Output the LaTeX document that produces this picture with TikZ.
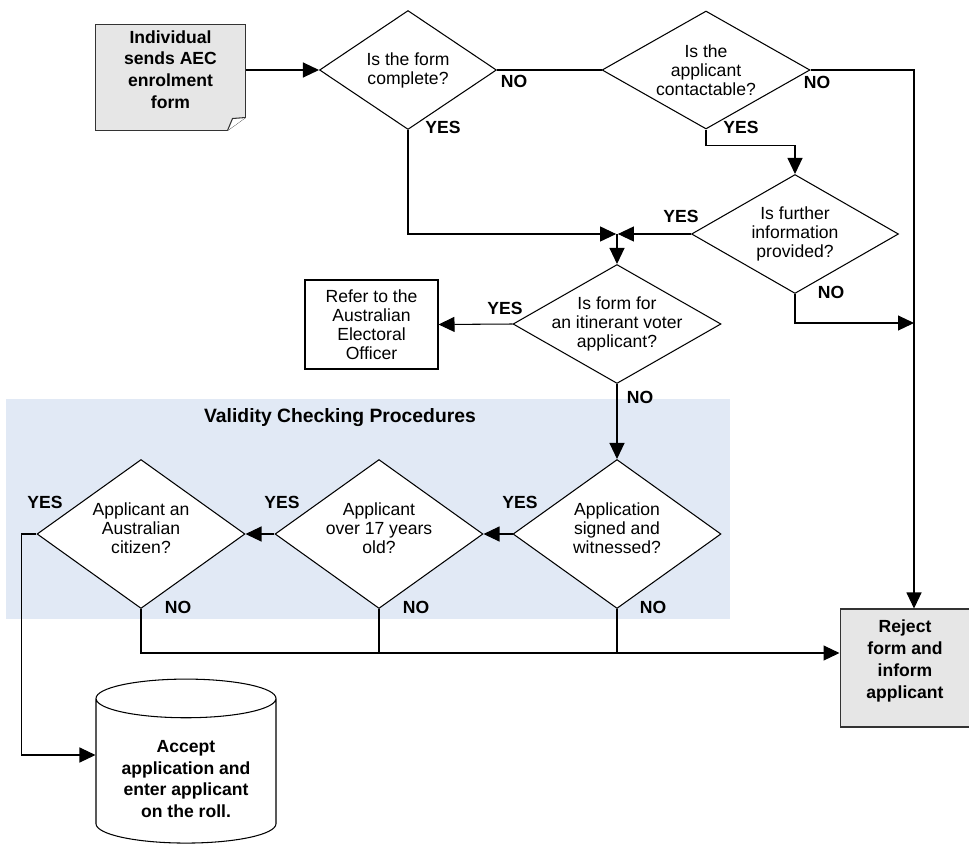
\documentclass[tikz,border=0pt]{standalone}
\usepackage{fontspec}
\setmainfont{Liberation Sans}
\usetikzlibrary{shapes.geometric,arrows.meta,positioning,calc,backgrounds}

\definecolor{bandblue}{RGB}{225,233,245}
\definecolor{boxgrey}{RGB}{230,230,230}

\tikzset{
  decision/.style={diamond, draw, fill=white, inner sep=0pt},
  qtext/.style={align=center, font=\fontsize{10}{10.8}\selectfont},
  btext/.style={align=center, font=\fontsize{10}{12.4}\selectfont\bfseries},
  answer/.style={font=\fontsize{10}{12}\selectfont\bfseries, inner sep=0pt},
  arr/.style={-{Triangle[length=0.32cm,width=0.3cm]}},
}

\begin{document}
\begin{tikzpicture}[x=0.02cm, y=-0.02cm, line width=0.6pt]
\useasboundingbox (0,0) rectangle (969,845);

% validity checking band
\fill[bandblue] (6,399) rectangle (730,619);
\node[font=\fontsize{11}{13}\selectfont\bfseries] (bandtitle) at (340,418) {Validity Checking Procedures};

% top row
\node[minimum width=2.98cm, minimum height=2.1cm, inner sep=0pt,
      label={[btext,yshift=0.16cm]center:Individual\\sends AEC\\enrolment\\form}] (sender) at (170.5,77.5) {};
\node[decision, minimum width=3.54cm, minimum height=2.38cm,
      label={[qtext]center:Is the form\\complete?}] (formok) at (408,70) {};
\node[decision, minimum width=4.16cm, minimum height=2.36cm,
      label={[qtext]center:Is the\\applicant\\contactable?}] (contact) at (706,70) {};
\node[decision, minimum width=4.14cm, minimum height=2.38cm,
      label={[qtext]center:Is further\\information\\provided?}] (further) at (795,234) {};

% middle
\node[decision, minimum width=4.16cm, minimum height=2.38cm,
      label={[qtext]center:Is form for\\an itinerant voter\\applicant?}] (itinerant) at (617,324) {};
\node[draw, fill=white, qtext, minimum width=2.66cm, minimum height=1.78cm, inner sep=0pt] (refer) at (371.5,324.5)
      {Refer to the\\Australian\\Electoral\\Officer};

% validity checks
\node[decision, minimum width=4.16cm, minimum height=2.98cm,
      label={[qtext,yshift=0.12cm]center:Application\\signed and\\witnessed?}] (signed) at (617,534) {};
\node[decision, minimum width=4.16cm, minimum height=2.98cm,
      label={[qtext,yshift=0.12cm]center:Applicant\\over 17 years\\old?}] (overage) at (379,534) {};
\node[decision, minimum width=4.16cm, minimum height=2.98cm,
      label={[qtext,yshift=0.12cm]center:Applicant an\\Australian\\citizen?}] (citizen) at (141,534) {};

% outcomes
\node[draw=black!80, fill=boxgrey, minimum width=2.6cm, minimum height=2.36cm, inner sep=0pt,
      label={[btext,yshift=0.14cm]center:Reject\\form and\\inform\\applicant}] (reject) at (905,668) {};
\node[cylinder, shape border rotate=90, draw, fill=white, shape aspect=0.3,
      minimum width=3.6cm, minimum height=3.28cm, inner sep=0pt, btext] (accept) at (186,771)
      {\rule{0pt}{16pt}Accept\\application and\\enter applicant\\on the roll.};

% document outline
\begin{scope}[on background layer]
\filldraw[fill=boxgrey, draw=black!80] (sender.north west) -- (sender.north east)
  -- ([yshift=0.26cm]sender.south east) -- ([xshift=-0.36cm]sender.south east)
  -- (sender.south west) -- cycle;
\end{scope}
\filldraw[fill=white, draw=black!80] ([xshift=-0.36cm]sender.south east)
  -- ([xshift=-0.26cm,yshift=0.24cm]sender.south east) -- ([yshift=0.26cm]sender.south east);

% connectors
\coordinate (rail) at (914,70);
\coordinate (norail) at (914,323);
\coordinate (join) at (itinerant.north |- further.west);
\coordinate (nojoin) at ([yshift=0.3cm]reject.west);

\draw[arr] (sender.east |- formok.west) -- (formok.west);
\draw (formok.east) -- (contact.west);
\draw[arr] (contact.east) -- (rail) -- (rail |- reject.north);
\draw[arr] (contact.south) -- ++(0,16) -| (further.north);
\draw[arr, shorten >=0.5pt] (formok.south) |- (join);
\draw[arr, shorten >=0.5pt] (further.west) -- (join);
\draw[arr] (join) -- (itinerant.north);
\draw[arr] (further.south) |- (norail);
\draw[arr] (itinerant.west) -- (refer.east);
\draw[arr] (itinerant.south) -- (signed.north);
\draw[arr] (signed.west) -- (overage.east);
\draw[arr] (overage.west) -- (citizen.east);
\draw[arr] (citizen.west) -- ++(-15,0) |- ([yshift=0.32cm]accept.west);
\draw[arr] (citizen.south) |- (nojoin);
\draw (overage.south) -- (overage.south |- nojoin);
\draw (signed.south) -- (signed.south |- nojoin);

% answers
\node[answer] (no1) at (514,81) {NO};
\node[answer] (yes1) at (443,127) {YES};
\node[answer] (no2) at (817,82) {NO};
\node[answer] (yes2) at (741,127) {YES};
\node[answer] (yes3) at (681,216) {YES};
\node[answer] (no3) at (831,292) {NO};
\node[answer] (yes4) at (505,308) {YES};
\node[answer] (no4) at (640,397) {NO};
\node[answer] (yes5) at (520,502) {YES};
\node[answer] (no5) at (653,607) {NO};
\node[answer] (yes6) at (282,502) {YES};
\node[answer] (no6) at (416,607) {NO};
\node[answer] (yes7) at (45,502) {YES};
\node[answer] (no7) at (178,607) {NO};
\end{tikzpicture}
\end{document}
